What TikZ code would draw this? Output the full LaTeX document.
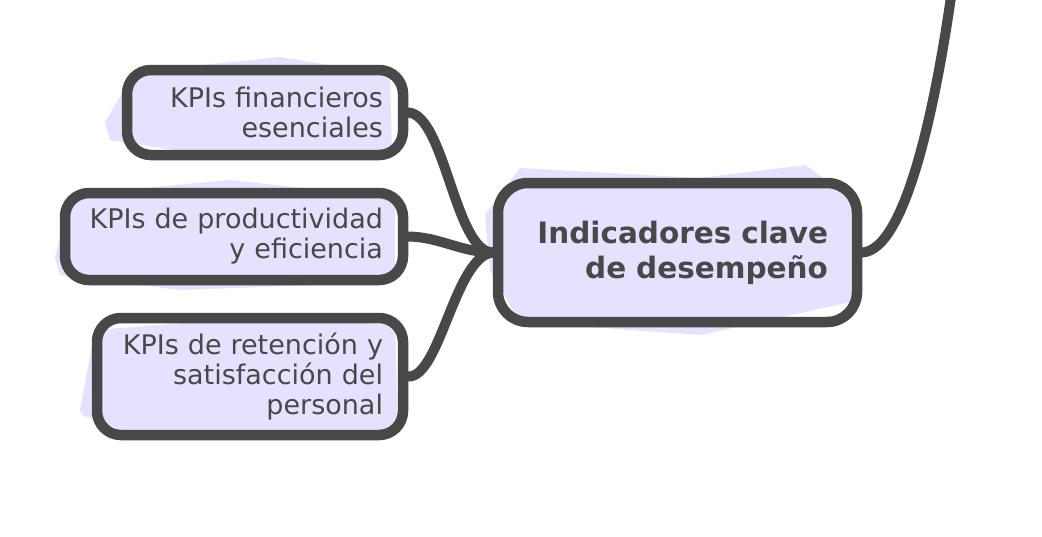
\documentclass[tikz,border=0pt]{standalone}
\usepackage{fontspec}
\setmainfont{DejaVu Sans}
\definecolor{ink}{RGB}{72,72,72}
\definecolor{lav}{RGB}{229,225,255}
\begin{document}
\begin{tikzpicture}[x=1pt,y=-1pt,
  box/.style={draw=ink, line width=10.5pt, rounded corners=24pt, rectangle,
    inner xsep=20pt, inner ysep=0pt, align=right, text=ink,
    font=\fontsize{27}{30}\selectfont},
  mainbox/.style={box, inner xsep=29pt, rounded corners=30pt,
    font=\fontsize{29.5}{35}\selectfont\bfseries},
  link/.style={draw=ink, line width=10pt, line cap=round}]
\clip (0,0) rectangle (1042,536);
\fill[white] (0,0) rectangle (1042,536);
% sketchy fills
\fill[lav] (105,122) -- (135,72) -- (280,57) -- (390,75) -- (392,152) -- (240,160) -- (110,140) -- cycle;
\fill[lav] (55,258) -- (70,195) -- (230,180) -- (395,198) -- (395,282) -- (180,290) -- (60,275) -- cycle;
\fill[lav] (80,410) -- (95,330) -- (250,318) -- (395,325) -- (398,430) -- (150,440) -- (82,415) -- cycle;
\fill[lav] (485,215) -- (520,168) -- (700,178) -- (805,165) -- (855,200) -- (860,300) -- (700,335) -- (520,322) -- (490,270) -- cycle;
% nodes
\node[box, minimum width=276pt, minimum height=85pt, text width=236pt] (fin) at (265,112.5) {KPIs financieros\\esenciales};
\node[box, minimum width=338pt, minimum height=87pt, text width=298pt] (prod) at (234,236.5) {KPIs de productividad\\y eficiencia};
\node[box, minimum width=306pt, minimum height=117pt, text width=266pt] (ret) at (250,376.5) {KPIs de retención y\\satisfacción del\\personal};
\node[mainbox, minimum width=359pt, minimum height=139pt, text width=301pt] (main) at (677.5,252.5) {Indicadores clave\\de desempeño};
\coordinate (up) at (952,-10);
% connectors
\draw[link] (fin.east) .. controls (445,115) and (455,252) .. (main.west);
\draw[link] (prod.east) .. controls (440,237) and (460,252) .. (main.west);
\draw[link] (ret.east) .. controls (440,378) and (455,256) .. (main.west);
\draw[link] (main.east) .. controls (905,250) and (935,110) .. (up);
\end{tikzpicture}
\end{document}
